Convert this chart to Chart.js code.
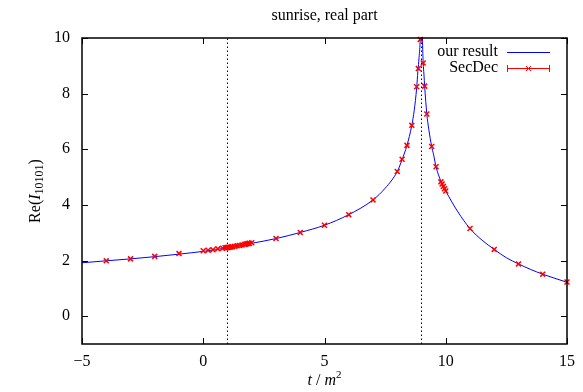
<!DOCTYPE html>
<html><head><meta charset="utf-8">
<script src="https://cdn.jsdelivr.net/npm/chart.js@4"></script>
<style>html,body{margin:0;padding:0;background:#fff}</style>
</head><body>
<canvas id="c" width="583" height="392"></canvas>
<script>
const titleText = "sunrise, real part";
const xTicks = [-5, 0, 5, 10, 15];
const yTicks = [0, 2, 4, 6, 8, 10];
const thresholds = [1, 9];
const legendLabels = ["our result", "SecDec"];

const curveX = [-5,-4,-3,-2,-1,0,1,2,3,4,5,6,7,7.5,8,8.2,8.4,8.6,8.7,8.8,8.85,8.9,8.95,8.98,9.0,9.02,9.05,9.07,9.1,9.13,9.22,9.3,9.42,9.5,9.6,9.8,10,10.5,11,11.5,12,12.5,13,13.5,14,14.5,15];
const curveY = [1.92,1.99,2.06,2.14,2.23,2.33,2.46,2.62,2.79,3.01,3.27,3.65,4.18,4.6,5.2,5.63,6.14,6.86,7.4,8.2,8.8,9.3,10.0,11.0,13.0,11.0,9.6,9.1,8.7,8.27,7.27,6.72,6.1,5.8,5.37,4.85,4.5,3.75,3.15,2.73,2.4,2.1,1.88,1.68,1.51,1.36,1.22];

const secdecX = [-4,-3,-2,-1,0,0.2,0.4,0.6,0.8,0.9,0.95,1.0,1.05,1.1,1.15,1.2,1.3,1.4,1.5,1.6,1.7,1.75,1.8,1.85,1.9,2.0,3,4,5,6,7,8,8.2,8.4,8.6,8.8,8.87,8.95,9.07,9.13,9.22,9.42,9.6,9.8,9.85,9.9,9.95,10,11,12,13,14,15];
const secdecY = [1.99,2.06,2.15,2.25,2.35,2.37,2.39,2.42,2.44,2.46,2.46,2.47,2.48,2.48,2.49,2.50,2.51,2.53,2.54,2.56,2.58,2.59,2.60,2.61,2.62,2.64,2.79,3.01,3.27,3.65,4.18,5.2,5.64,6.14,6.86,8.25,8.9,9.95,9.1,8.27,7.27,6.1,5.37,4.83,4.75,4.66,4.58,4.5,3.15,2.4,1.88,1.51,1.23];

const FONT = "'Liberation Serif','DejaVu Serif',serif";
const FS = 16;
const zip = (xs, ys) => xs.map((x, i) => ({x, y: ys[i]}));

const deco = {
  id: 'deco',
  afterDraw(chart) {
    const ctx = chart.ctx, a = chart.chartArea;
    const xs = chart.scales.x, ys = chart.scales.y;
    ctx.save();
    ctx.strokeStyle = '#000'; ctx.lineWidth = 1;
    const T = 6;
    ctx.beginPath();
    xTicks.forEach(v => {
      const p = Math.round(xs.getPixelForValue(v)) + 0.5;
      ctx.moveTo(p, a.bottom); ctx.lineTo(p, a.bottom - T);
      ctx.moveTo(p, a.top); ctx.lineTo(p, a.top + T);
    });
    yTicks.forEach(v => {
      const p = Math.round(ys.getPixelForValue(v)) + 0.5;
      ctx.moveTo(a.left, p); ctx.lineTo(a.left + T, p);
      ctx.moveTo(a.right, p); ctx.lineTo(a.right - T, p);
    });
    ctx.stroke();
    ctx.lineWidth = 1.5;
    ctx.strokeRect(a.left, a.top, a.right - a.left, a.bottom - a.top);

    // title
    ctx.fillStyle = '#000';
    ctx.font = FS + 'px ' + FONT;
    ctx.textAlign = 'center'; ctx.textBaseline = 'middle';
    ctx.fillText(titleText, (a.left + a.right) / 2, 16);

    // x title: t / m^2
    const cx = (a.left + a.right) / 2, cy = 381;
    const parts = [['italic ' + FS + 'px ' + FONT, 't', 0], [FS + 'px ' + FONT, ' / ', 0], ['italic ' + FS + 'px ' + FONT, 'm', 0], ['11px ' + FONT, '2', -6]];
    let w = 0;
    parts.forEach(p => { ctx.font = p[0]; w += ctx.measureText(p[1]).width; });
    let x0 = cx - w / 2;
    ctx.textAlign = 'left';
    parts.forEach(p => { ctx.font = p[0]; ctx.fillText(p[1], x0, cy + p[2]); x0 += ctx.measureText(p[1]).width; });

    // y title: Re(I_10101)
    ctx.save();
    ctx.translate(36, (a.top + a.bottom) / 2);
    ctx.rotate(-Math.PI / 2);
    const yp = [[FS + 'px ' + FONT, 'Re(', 0], ['italic ' + FS + 'px ' + FONT, 'I', 0], ['12px ' + FONT, '10101', 4], [FS + 'px ' + FONT, ')', 0]];
    w = 0;
    yp.forEach(p => { ctx.font = p[0]; w += ctx.measureText(p[1]).width; });
    x0 = -w / 2;
    yp.forEach(p => { ctx.font = p[0]; ctx.fillText(p[1], x0, p[2]); x0 += ctx.measureText(p[1]).width; });
    ctx.restore();

    // legend
    ctx.font = FS + 'px ' + FONT;
    ctx.textAlign = 'right';
    const lx = 498, l1 = 52, l2 = 68;
    ctx.fillText(legendLabels[0], lx, l1);
    ctx.fillText(legendLabels[1], lx, l2);
    ctx.strokeStyle = '#0000ff'; ctx.lineWidth = 1;
    ctx.beginPath(); ctx.moveTo(507, l1 + 0.5); ctx.lineTo(550, l1 + 0.5); ctx.stroke();
    ctx.strokeStyle = '#ff0000';
    ctx.beginPath();
    ctx.moveTo(507, l2 + 0.5); ctx.lineTo(550, l2 + 0.5);
    ctx.moveTo(507.5, l2 - 3); ctx.lineTo(507.5, l2 + 4);
    ctx.moveTo(549.5, l2 - 3); ctx.lineTo(549.5, l2 + 4);
    const mx = 528.5, r = 2.5;
    ctx.moveTo(mx - r, l2 + 0.5 - r); ctx.lineTo(mx + r, l2 + 0.5 + r);
    ctx.moveTo(mx - r, l2 + 0.5 + r); ctx.lineTo(mx + r, l2 + 0.5 - r);
    ctx.stroke();
    ctx.restore();
  }
};

const datasets = [
  { label: legendLabels[1], data: zip(secdecX, secdecY), showLine: false,
    pointStyle: 'crossRot', pointRadius: 3.5, pointBorderColor: '#ff0000', pointBorderWidth: 1.5,
    pointBackgroundColor: '#ff0000', clip: false },
  { label: legendLabels[0], data: zip(curveX, curveY), borderColor: '#0000ff', borderWidth: 1,
    pointRadius: 0, cubicInterpolationMode: 'monotone', fill: false, clip: 0 },
];
thresholds.forEach(t => datasets.push({
  label: 'threshold', data: [{x: t, y: -1}, {x: t, y: 10}], borderColor: '#000', borderWidth: 1,
  borderDash: [1.5, 2.5], pointRadius: 0, fill: false
}));

new Chart(document.getElementById('c'), {
  type: 'line',
  data: { datasets },
  options: {
    responsive: false, animation: false,
    layout: { padding: { left: 0, right: 13, top: 38, bottom: 0 } },
    plugins: { legend: { display: false }, tooltip: { enabled: false }, title: { display: false } },
    scales: {
      x: {
        type: 'linear', min: -5, max: 15,
        afterBuildTicks: s => { s.ticks = xTicks.map(v => ({value: v})); },
        afterFit: s => { s.height = 48; },
        grid: { display: false, drawTicks: false }, border: { display: false },
        ticks: { color: '#000', padding: 8, font: { family: FONT, size: FS },
          callback: v => (v < 0 ? '\u2212' + Math.abs(v) : String(v)), maxRotation: 0 }
      },
      y: {
        type: 'linear', min: -1, max: 10,
        afterBuildTicks: s => { s.ticks = yTicks.map(v => ({value: v})); },
        afterFit: s => { s.width = 82; },
        grid: { display: false, drawTicks: false }, border: { display: false },
        ticks: { color: '#000', padding: 12, font: { family: FONT, size: FS } }
      }
    }
  },
  plugins: [deco]
});
</script>
</body></html>
